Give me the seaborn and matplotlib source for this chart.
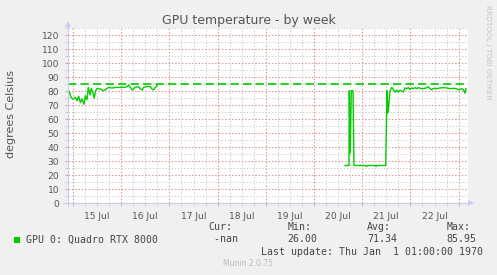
import numpy as np
import pandas as pd
import matplotlib
matplotlib.use("Agg")
import matplotlib.pyplot as plt
import seaborn as sns
from matplotlib.ticker import MultipleLocator, FuncFormatter
from matplotlib.patches import Rectangle
from matplotlib.lines import Line2D

# ---- data (days since 15 Jul 00:00, temperature in C) ----
seg1_days = [-0.114, -0.104, -0.076, -0.042, 0.000, 0.048, 0.083, 0.118, 0.152, 0.187,
             0.228, 0.256, 0.290, 0.318, 0.353, 0.380, 0.415, 0.443, 0.463, 0.498,
             0.567, 0.636, 0.705, 0.740, 0.809, 0.878, 0.982, 1.051, 1.120, 1.155,
             1.189, 1.224, 1.293, 1.362, 1.397, 1.432, 1.466, 1.535, 1.604, 1.639,
             1.674, 1.708, 1.743]
seg1_temp = [80.0, 77.6, 80.0, 75.6, 74.4, 75.6, 73.3, 76.4, 72.0, 74.5,
             70.7, 76.9, 74.0, 82.8, 77.4, 82.0, 78.8, 75.0, 80.0, 82.0,
             81.6, 80.4, 82.0, 82.8, 82.3, 82.8, 82.8, 82.8, 83.3, 84.5,
             82.8, 81.0, 82.8, 83.3, 81.6, 81.0, 82.8, 83.5, 83.3, 81.6,
             81.0, 82.8, 84.0]
seg2_days = [5.643, 5.726, 5.732, 5.751, 5.774, 5.809, 5.830, 6.070, 6.093, 6.110,
             6.265, 6.286, 6.305, 6.488, 6.515, 6.535, 6.577, 6.612, 6.646, 6.680,
             6.715, 6.750, 6.784, 6.819, 6.853, 6.888, 6.923, 6.957, 6.992, 7.026,
             7.061, 7.095, 7.130, 7.165, 7.234, 7.303, 7.372, 7.407, 7.441, 7.476,
             7.545, 7.614, 7.683, 7.752, 7.822, 7.891, 7.960, 7.994, 8.029, 8.064,
             8.098, 8.133, 8.154]
seg2_temp = [27.0, 27.0, 80.4, 36.0, 80.4, 80.4, 27.0, 27.0, 26.3, 27.0,
             27.0, 26.3, 27.0, 27.0, 80.4, 64.5, 80.0, 82.8, 81.4, 79.5,
             80.7, 79.5, 80.7, 80.2, 79.5, 82.4, 81.9, 82.6, 81.4, 82.4,
             81.9, 82.6, 81.9, 82.6, 81.9, 82.1, 83.3, 81.9, 81.0, 82.1,
             81.9, 82.4, 82.6, 82.4, 81.9, 82.1, 81.9, 81.0, 81.4, 81.9,
             81.4, 78.6, 81.9]
warning_level = 85
day_labels = ["15 Jul", "16 Jul", "17 Jul", "18 Jul", "19 Jul", "20 Jul", "21 Jul", "22 Jul"]
legend_name = "GPU 0: Quadro RTX 8000"
stat_heads = ["Cur:", "Min:", "Avg:", "Max:"]
stat_vals = [" -nan", "26.00", "71.34", "85.95"]

df = pd.concat([
    pd.DataFrame({"day": seg1_days, "temp": seg1_temp, "seg": 1}),
    pd.DataFrame({"day": seg2_days, "temp": seg2_temp, "seg": 2}),
])

W, H = 497, 275
BG = "#F0F0F0"
GREEN = "#00CC00"
TXT = "#555555"
MAJ = "#E29A9A"
MIN = "#D2D2D2"
AXC = "#C8CCF8"

fig = plt.figure(figsize=(W / 100, H / 100), dpi=100, facecolor=BG)
ax = fig.add_axes([67.5 / W, (H - 203.3) / H, 400 / W, 175 / H])
ax.set_facecolor("white")

x0 = (67.5 - 73) / 48.2
x1 = (467.5 - 73) / 48.2
ax.set_xlim(x0, x1)
ax.set_ylim(0, 125)

ax.xaxis.set_major_locator(MultipleLocator(1))
ax.xaxis.set_minor_locator(MultipleLocator(0.25))
ax.yaxis.set_major_locator(MultipleLocator(10))
ax.yaxis.set_minor_locator(MultipleLocator(5))


def xminor(v, pos):
    k = v - np.floor(v)
    if abs(k - 0.5) < 1e-6:
        i = int(np.floor(v))
        if 0 <= i < len(day_labels):
            return day_labels[i]
    return ""


ax.xaxis.set_major_formatter(FuncFormatter(lambda v, p: ""))
ax.xaxis.set_minor_formatter(FuncFormatter(xminor))
ax.yaxis.set_major_formatter(FuncFormatter(lambda v, p: "%d" % v if v <= 120 else ""))

dots = (0, (1.4, 1.6))
ax.grid(which="minor", color=MIN, linestyle=dots, linewidth=0.75)
ax.grid(which="major", color=MAJ, linestyle=dots, linewidth=0.8)
ax.set_axisbelow(True)

ax.tick_params(axis="x", which="major", length=2.5, width=0.7, color=MAJ, pad=3)
ax.tick_params(axis="x", which="minor", length=2.5, width=0.7, color=MIN, pad=4,
               labelsize=6.6, labelcolor=TXT)
ax.tick_params(axis="y", which="major", length=2, width=0.7, color=MAJ, pad=4,
               labelsize=6.6, labelcolor=TXT)
ax.tick_params(axis="y", which="minor", length=2, width=0.7, color=MIN)

for s in ax.spines.values():
    s.set_visible(False)

ax.axhline(warning_level, color=GREEN, linewidth=1.2, linestyle=(0, (5, 2.5)), zorder=3)

sns.lineplot(data=df, x="day", y="temp", units="seg", estimator=None,
             color=GREEN, linewidth=1.0, ax=ax, legend=False, zorder=4)
ax.set_xlabel("")
ax.set_ylabel("")

# axis lines with arrows (figure pixel coordinates)
def fx(x):
    return x / W


def fy(y):
    return 1 - y / H


fig.add_artist(Line2D([fx(67.5), fx(67.5)], [fy(206), fy(25)], color=AXC, lw=0.8,
                      transform=fig.transFigure))
fig.add_artist(Line2D([fx(63), fx(469)], [fy(203.3), fy(203.3)], color=AXC, lw=0.8,
                      transform=fig.transFigure))
fig.add_artist(Line2D([fx(67.5)], [fy(23.5)], marker="^", markersize=4.5, color=AXC,
                      markeredgewidth=0, transform=fig.transFigure))
fig.add_artist(Line2D([fx(471)], [fy(203.3)], marker=">", markersize=4.5, color=AXC,
                      markeredgewidth=0, transform=fig.transFigure))

fig.text(fx(248.5), fy(24), "GPU temperature - by week", ha="center", va="baseline",
         fontsize=9, color="#555555")
fig.text(fx(11), fy(114), "degrees Celsius", rotation=90, ha="center", va="center",
         fontsize=8, color="#555555")
fig.text(fx(488), fy(5), "RRDTOOL / TOBI OETIKER", rotation=270, ha="center", va="top",
         fontsize=5.3, color="#C4C4C4")

mono = "DejaVu Sans Mono"
fig.add_artist(Rectangle((fx(14), fy(243)), 6 / W, 6 / H, transform=fig.transFigure,
                         facecolor=GREEN, edgecolor="none"))
fig.text(fx(26), fy(240), legend_name, ha="left", va="center", fontsize=7.1,
         family=mono, color="#444444")
head_x = [208.3, 287.3, 367.3, 446.7]
for hx, h, v in zip(head_x, stat_heads, stat_vals):
    fig.text(fx(hx), fy(227.5), h, ha="left", va="center", fontsize=7.1, family=mono,
             color="#444444")
    fig.text(fx(hx), fy(239.5), v, ha="left", va="center", fontsize=7.1, family=mono,
             color="#444444")
fig.text(fx(483), fy(252), "Last update: Thu Jan  1 01:00:00 1970", ha="right",
         va="center", fontsize=7.1, family=mono, color="#444444")
fig.text(fx(248), fy(264), "Munin 2.0.75", ha="center", va="center", fontsize=5.5,
         color="#BBBBBB")

fig.savefig("out.png", dpi=100, facecolor=BG)
